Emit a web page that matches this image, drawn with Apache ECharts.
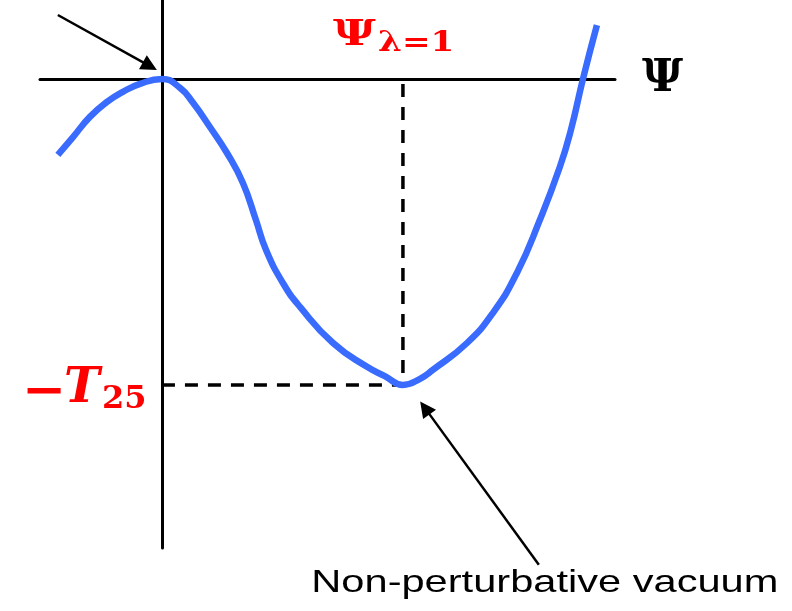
<!DOCTYPE html>
<html>
<head>
<meta charset="utf-8">
<script src="https://cdn.jsdelivr.net/npm/echarts@6/dist/echarts.min.js"></script>
<style>
html, body { margin: 0; padding: 0; background: #fff; }
#main { width: 792px; height: 611px; }
</style>
</head>
<body>
<div id="main"></div>
<script>
// 势能曲线 x 以 Ψ_{λ=1} 为单位, y 以 T25 为单位
const curveX = [-0.432, -0.369, -0.299, -0.228, -0.162, -0.091, 0, 0.075, 0.129, 0.199, 0.270, 0.336,
    0.390, 0.432, 0.502, 0.573, 0.710, 0.851, 0.925, 1.0, 1.071, 1.124, 1.266, 1.373, 1.473, 1.568, 1.651, 1.697, 1.747, 1.805];
const curveY = [-0.248, -0.190, -0.124, -0.075, -0.042, -0.016, 0, -0.029, -0.078, -0.157, -0.242, -0.340,
    -0.461, -0.559, -0.667, -0.745, -0.863, -0.941, -0.971, -1.0, -0.980, -0.951, -0.863, -0.765, -0.634, -0.461, -0.288, -0.167, 0, 0.176];
const psiOne = 1;      // Ψ_{λ=1}
const vacuumY = -1;    // −T25
// 箭头 [起点, 终点]
const arrowTop = [[-0.432, 0.209], [-0.050, 0.042]];
const arrowVac = [[1.564, -1.588], [1.091, -1.075]];

const xRange = [-0.506, 1.88];
const yRange = [-1.533, 0.258];

const chart = echarts.init(document.getElementById('main'));

const axisCommon = {
    type: 'value',
    axisLine: { show: true, onZero: true, lineStyle: { color: '#000', width: 3 } },
    axisTick: { show: false },
    axisLabel: { show: false },
    splitLine: { show: false }
};

chart.setOption({
    animation: false,
    backgroundColor: '#fff',
    grid: { left: 40, right: 177, top: 0, bottom: 63 },
    xAxis: Object.assign({}, axisCommon, {
        min: xRange[0], max: xRange[1],
        name: 'Ψ',
        nameLocation: 'end',
        nameGap: 27,
        nameTextStyle: { fontFamily: 'DejaVu Serif', fontWeight: 'bold', fontSize: 45, color: '#000', padding: [0, 0, 6, 0] }
    }),
    yAxis: Object.assign({}, axisCommon, { min: yRange[0], max: yRange[1] }),
    series: [
        {
            // 虚线: −T25 与 Ψ_{λ=1}
            type: 'line',
            data: [[0, vacuumY], [psiOne, vacuumY], [psiOne, 0]],
            showSymbol: false,
            lineStyle: { color: '#000', width: 3.5, type: [13, 10] },
            z: 1
        },
        {
            type: 'line',
            data: curveX.map((x, i) => [x, curveY[i]]),
            smooth: 0.5,
            showSymbol: false,
            lineStyle: { color: '#3a6bff', width: 6.5 },
            z: 3
        },
        {
            type: 'lines',
            coordinateSystem: 'cartesian2d',
            clip: false,
            symbol: ['none', 'triangle'],
            symbolSize: 16,
            lineStyle: { color: '#000', width: 2.5, opacity: 1 },
            data: [{ coords: arrowTop }, { coords: arrowVac }],
            z: 4
        }
    ]
});

// 文字标注 (原图文字横向被拉宽, 用 scaleX 还原)
const px = (p) => chart.convertToPixel({ gridIndex: 0 }, p);
const pPsi = px([psiOne, 0]);
const pT = px([0, vacuumY]);
const pVac = px(arrowVac[0]);
const red = '#ff0000';

function txt(x, y, text, size, sx, extra) {
    return {
        type: 'text', x: x, y: y, scaleX: sx,
        style: Object.assign({
            text: text, fontSize: size, fontFamily: 'DejaVu Serif', fontWeight: 'bold',
            fill: red, align: 'left', verticalAlign: 'middle'
        }, extra || {})
    };
}

chart.setOption({
    graphic: [
        txt(pPsi[0] - 70, pPsi[1] - 43, 'Ψ', 36, 1.3),
        txt(pPsi[0] - 25, pPsi[1] - 35, 'λ=1', 28, 1.22),
        txt(pT[0] - 140, pT[1] + 9, '−', 48, 1.1),
        txt(pT[0] - 98, pT[1] + 5, 'T', 48, 1.0, { fontStyle: 'italic' }),
        txt(pT[0] - 60, pT[1] + 15, '25', 32, 1.0),
        txt(pVac[0] + 6, pVac[1] + 18, 'Non-perturbative vacuum', 32, 1.3,
            { fontFamily: 'Liberation Sans', fontWeight: 'normal', fill: '#000', align: 'center' })
    ]
});
</script>
</body>
</html>
